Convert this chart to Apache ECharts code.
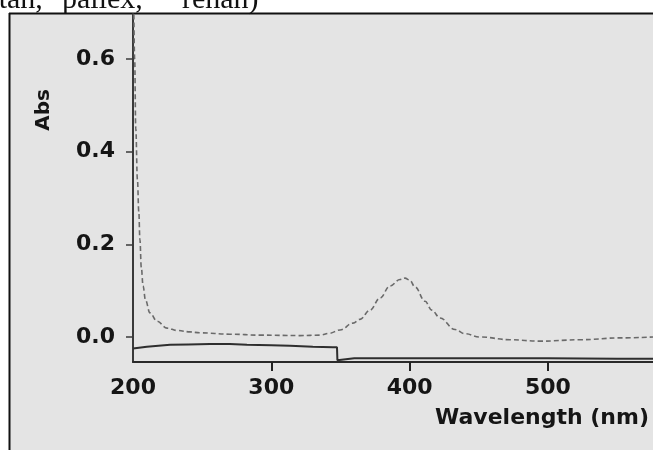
<!DOCTYPE html>
<html>
<head>
<meta charset="utf-8">
<script src="https://cdn.jsdelivr.net/npm/echarts@6/dist/echarts.min.js"></script>
<style>
  html, body { margin: 0; padding: 0; background: #fff; }
  #chart { width: 653px; height: 450px; }
</style>
</head>
<body>
<div id="chart"></div>
<script>
// sample spectrum (dashed trace)
var waveSample = [200.3, 201.2, 202.0, 203.2, 204.2, 205.0, 206.0, 207.3, 209.0, 212.3, 217.4, 224.6, 232.0, 241.2,
  248.4, 270.1, 291.8, 320.8, 335.2, 342.0, 349.7, 359.1, 364.1, 371.4, 378.6, 385.8, 393.1, 396.7, 400.0,
  403.9, 411.2, 416.0, 422.0, 432.9, 440.0, 450.9, 472.6, 494.3, 523.2, 552.1, 576.0];
var absSample = [0.80, 0.60, 0.45, 0.34, 0.27, 0.21, 0.15, 0.11, 0.08, 0.052, 0.034, 0.019, 0.014, 0.011,
  0.009, 0.006, 0.004, 0.003, 0.004, 0.008, 0.015, 0.030, 0.038, 0.058, 0.084, 0.110, 0.124, 0.127, 0.123,
  0.108, 0.077, 0.058, 0.041, 0.016, 0.007, 0.000, -0.006, -0.009, -0.006, -0.002, 0.000];

// baseline trace (solid, with lamp-change step at ~348 nm)
var waveBase = [200.0, 210.0, 226.8, 240.0, 255.7, 270.0, 282.4, 300.0, 313.5, 330.0, 344.6, 347.5, 347.8,
  360.0, 400.0, 450.0, 500.0, 550.0, 576.0];
var absBase = [-0.025, -0.021, -0.017, -0.016, -0.015, -0.015, -0.017, -0.018, -0.019, -0.021, -0.022, -0.022,
  -0.050, -0.046, -0.046, -0.046, -0.046, -0.047, -0.047];

var xLabels = [200, 300, 400, 500];
var xTicks = [300, 400, 500];
var yLabels = [0, 0.2, 0.4, 0.6];

function pairs(xs, ys) {
  return xs.map(function(x, i) { return [x, ys[i]]; });
}

var font = '"DejaVu Sans", "Liberation Sans", sans-serif';
var chart = echarts.init(document.getElementById('chart'), null, { renderer: 'canvas' });
chart.setOption({
  animation: false,
  backgroundColor: '#e4e4e4',
  grid: { left: 133, right: 0, top: 14, bottom: 88 },
  xAxis: {
    type: 'value',
    min: 200,
    max: 576,
    axisLine: { onZero: false, lineStyle: { color: '#2a2a2a', width: 2 } },
    axisTick: { show: true, customValues: xTicks, length: 9, lineStyle: { color: '#222', width: 2 } },
    axisLabel: {
      customValues: xLabels,
      margin: 15,
      color: '#151515',
      fontFamily: font,
      fontWeight: 'bold',
      fontSize: 22
    },
    // kept on but transparent
    splitLine: { show: true, lineStyle: { color: 'rgba(0,0,0,0)' } }
  },
  yAxis: {
    type: 'value',
    min: -0.054,
    max: 0.697,
    axisLine: { show: true, onZero: false, lineStyle: { color: '#3a3a3a', width: 2 } },
    axisTick: { show: true, customValues: yLabels, length: 7, lineStyle: { color: '#3a3a3a', width: 1.5 } },
    axisLabel: {
      customValues: yLabels,
      margin: 18,
      color: '#151515',
      fontFamily: font,
      fontWeight: 'bold',
      fontSize: 22,
      formatter: function(v) { return v.toFixed(1); }
    },
    splitLine: { show: false }
  },
  graphic: [
    { type: 'rect', shape: { x: 0, y: 0, width: 653, height: 13 }, style: { fill: '#fff' } },
    { type: 'rect', shape: { x: 0, y: 0, width: 9, height: 450 }, style: { fill: '#fff' } },
    { type: 'line', shape: { x1: 9, y1: 13.5, x2: 653, y2: 13.5 }, style: { stroke: '#111', lineWidth: 2 } },
    { type: 'line', shape: { x1: 9.5, y1: 13, x2: 9.5, y2: 450 }, style: { stroke: '#111', lineWidth: 2 } },
    {
      type: 'text', x: -13, y: 0,
      style: { text: 'stan,', font: '30px "Liberation Serif", serif', fill: '#111', verticalAlign: 'middle' }
    },
    {
      type: 'text', x: 62, y: 0,
      style: { text: 'pallex,', font: '30px "Liberation Serif", serif', fill: '#111', verticalAlign: 'middle' }
    },
    {
      type: 'text', x: 182, y: 0,
      style: { text: 'rehan)', font: '30px "Liberation Serif", serif', fill: '#111', verticalAlign: 'middle' }
    },
    {
      type: 'text', x: 44, y: 110, rotation: Math.PI / 2,
      style: { text: 'Abs', font: 'bold 20px ' + font, fill: '#151515', align: 'center', verticalAlign: 'middle' }
    },
    {
      type: 'text', x: 435, y: 407,
      style: { text: 'Wavelength (nm)', font: 'bold 22px ' + font, fill: '#151515', align: 'left', verticalAlign: 'top' }
    }
  ],
  series: [
    {
      type: 'line',
      data: pairs(waveSample, absSample),
      smooth: 0.4,
      smoothMonotone: 'x',
      symbol: 'none',
      lineStyle: { color: '#6a6a6a', width: 1.6, type: [5, 3] }
    },
    {
      type: 'line',
      data: pairs(waveBase, absBase),
      symbol: 'none',
      lineStyle: { color: '#2e2e2e', width: 2 }
    }
  ]
});
window.addEventListener('resize', function() { chart.resize(); });
</script>
</body>
</html>
